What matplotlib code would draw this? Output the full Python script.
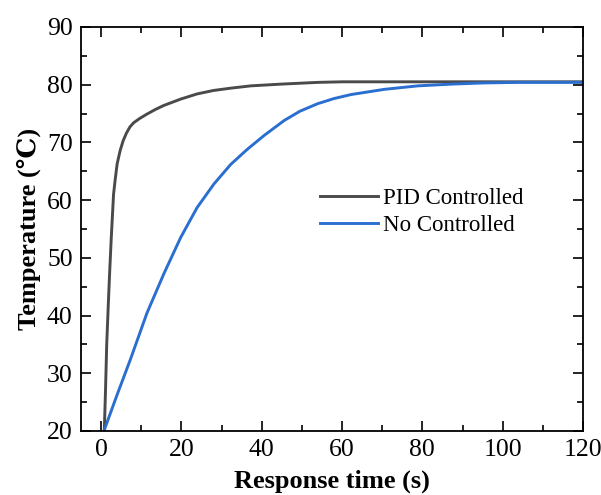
import matplotlib
matplotlib.use('Agg')
import matplotlib.pyplot as plt
from matplotlib.ticker import MultipleLocator

# values
pid_time = [0.8, 1.1, 1.4, 1.8, 2.1, 2.5, 2.8, 3.1, 3.5, 4.0, 4.75, 5.5, 6.3, 7.2, 8.1,
            9.5, 11.4, 13.5, 15.6, 19.8, 23.9, 28.0, 32.3, 37.3, 44.8, 53.9, 60, 70,
            80, 90, 100, 110, 120]
pid_temp = [20, 27, 35, 42, 47, 53, 57, 61, 63.5, 66.3, 68.6, 70.3, 71.6, 72.7, 73.4,
            74.1, 74.9, 75.7, 76.4, 77.5, 78.4, 79.0, 79.4, 79.8, 80.1, 80.4, 80.5, 80.5,
            80.5, 80.5, 80.5, 80.5, 80.5]

no_time = [0.7, 4.0, 7.3, 11.4, 15.6, 19.8, 23.9, 28.1, 32.3, 36.4, 40.6, 45.6,
           49.5, 53.9, 58.0, 62.3, 70.6, 78.9, 87.3, 95.0, 103.9, 112.0, 120.0]
no_temp = [20, 26.3, 32.4, 40.4, 47.2, 53.5, 58.7, 62.8, 66.2, 68.8, 71.2, 73.8,
           75.4, 76.7, 77.6, 78.3, 79.2, 79.8, 80.1, 80.3, 80.4, 80.4, 80.4]

series_labels = ['PID Controlled', 'No Controlled']

plt.rcParams['font.family'] = ['Liberation Serif', 'DejaVu Serif']

fig = plt.figure(figsize=(6.01, 4.95), dpi=100)
ax = fig.add_axes([0.1348, 0.1293, 0.8352, 0.8162])

ax.plot(pid_time, pid_temp, color='#4a4a4a', lw=2.1, label=series_labels[0])
ax.plot(no_time, no_temp, color='#2a6fd0', lw=2.1, label=series_labels[1])

ax.set_xlim(-5, 120)
ax.set_ylim(20, 90)
ax.xaxis.set_major_locator(MultipleLocator(20))
ax.xaxis.set_minor_locator(MultipleLocator(10))
ax.yaxis.set_major_locator(MultipleLocator(10))
ax.yaxis.set_minor_locator(MultipleLocator(5))

ax.tick_params(which='both', direction='in', top=True, right=True,
               width=1.2, labelsize=18.5)
ax.tick_params(which='major', length=7, pad=6)
ax.tick_params(which='minor', length=4)
for s in ax.spines.values():
    s.set_linewidth(1.3)

ax.set_xlabel('Response time (s)', fontsize=19, fontweight='bold', labelpad=6)
ax.set_ylabel('Temperature (\u2103)', fontsize=19, fontweight='bold', labelpad=4)

ax.legend(loc='center left', bbox_to_anchor=(0.476, 0.542), frameon=False,
          fontsize=16.5, borderpad=0, borderaxespad=0, handlelength=2.55,
          handletextpad=0.22, labelspacing=0.3)

fig.savefig('out.png', dpi=100)
